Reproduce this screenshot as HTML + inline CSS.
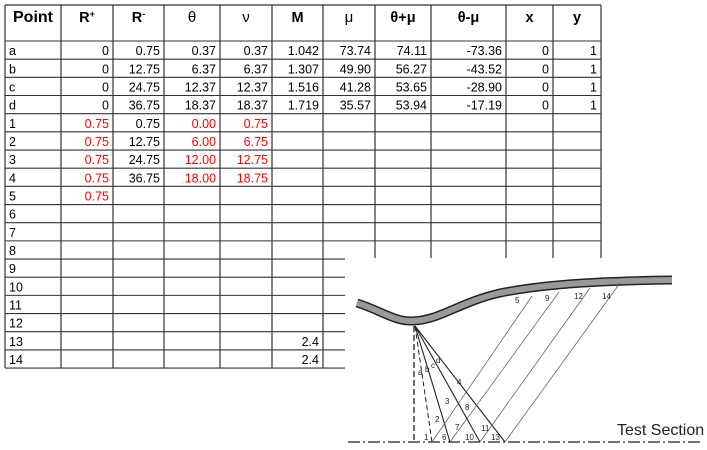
<!DOCTYPE html>
<html><head><meta charset="utf-8"><style>
html,body{margin:0;padding:0;background:#fff;}
svg{display:block;font-family:"Liberation Sans",Arial,sans-serif;}
</style></head><body>
<svg id="s" width="707" height="450" viewBox="0 0 707 450"></svg>
<script>
const NS='http://www.w3.org/2000/svg';
const svg=document.getElementById('s');
const colX=[5,61,113,164,220,272,323,375,431,506,553,601];
const headers=['Point','R+','R-','θ','ν','M','μ','θ+μ','θ-μ','x','y'];
const points=['a','b','c','d','1','2','3','4','5','6','7','8','9','10','11','12','13','14'];
const rPlus=['0','0','0','0','0.75','0.75','0.75','0.75','0.75','','','','','','','','',''];
const rMinus=['0.75','12.75','24.75','36.75','0.75','12.75','24.75','36.75','','','','','','','','','',''];
const theta=['0.37','6.37','12.37','18.37','0.00','6.00','12.00','18.00','','','','','','','','','',''];
const nu=['0.37','6.37','12.37','18.37','0.75','6.75','12.75','18.75','','','','','','','','','',''];
const mach=['1.042','1.307','1.516','1.719','','','','','','','','','','','','','2.4','2.4'];
const mu=['73.74','49.90','41.28','35.57','','','','','','','','','','','','','',''];
const tpm=['74.11','56.27','53.65','53.94','','','','','','','','','','','','','',''];
const tmm=['-73.36','-43.52','-28.90','-17.19','','','','','','','','','','','','','',''];
const xs=['0','0','0','0','','','','','','','','','','','','','',''];
const ys=['1','1','1','1','','','','','','','','','','','','','',''];
const cols=[points,rPlus,rMinus,theta,nu,mach,mu,tpm,tmm,xs,ys];
const headTop=5, headBot=41, rowH=18.17;
function el(t,a,p){const e=document.createElementNS(NS,t);for(const k in a)e.setAttribute(k,a[k]);(p||svg).appendChild(e);return e;}
const g=el('g',{});


headers.forEach((h,i)=>{
  const cx=(colX[i]+colX[i+1])/2;
  const greek=(h==='θ'||h==='ν'||h==='μ');
  const t=el('text',{x:cx,y:22,'text-anchor':'middle','font-size':i==0?16:(greek?15:14.5),'font-weight':greek?'normal':'bold',fill:'#000'},g);
  
  
  if(h==='R+'||h==='R-'){t.textContent='R';const s=el('tspan',{'font-size':9,dy:-5},t);s.textContent=h==='R+'?'+':'-';}
  else t.textContent=h;
});
points.forEach((p,r)=>{
  const yb=headBot+rowH*(r+1)-4;
  cols.forEach((c,i)=>{
    const v=c[r]; if(!v) return;
    const red=(r>=4&&r<=8)&&(i==1||i==3||i==4);
    const t=el('text',i==0?{x:9,y:yb,'font-size':12.5}:{x:colX[i+1]-4,y:yb,'text-anchor':'end','font-size':12.5},g);
    t.setAttribute('fill',red?'#ff0000':'#000');
    
    
    t.textContent=v;
  });
});
const bottom=headBot+rowH*points.length;
colX.forEach(x=>{const l=el('line',{x1:x,y1:headTop,x2:x,y2:bottom,stroke:'#333','stroke-width':1.2},g);});
el('line',{x1:colX[0],y1:headTop,x2:colX[11],y2:headTop,stroke:'#333','stroke-width':1.2},g);
for(let r=0;r<=points.length;r++){const y=headBot+rowH*r;const l=el('line',{x1:colX[0],y1:y,x2:colX[11],y2:y,stroke:'#333','stroke-width':1.1},g);}
const d=el('g',{});


el('rect',{x:345,y:258,width:362,height:192,fill:'#fff'},d);
const wall='M357,303 C380,310 395,322 413,321 C440,320 460,302 500,293 C540,285 590,281 672,280';
el('path',{d:wall,fill:'none',stroke:'#222','stroke-width':9},d);
const wp=el('path',{d:wall,fill:'none',stroke:'#999','stroke-width':6},d);

el('line',{x1:348,y1:442,x2:700,y2:442,stroke:'#222','stroke-width':1.2,'stroke-dasharray':'12,3,2,3'},d);
el('line',{x1:414,y1:326,x2:414,y2:442,stroke:'#222','stroke-width':1.3,'stroke-dasharray':'6,3'},d);
const O=[415,326];
el('line',{x1:O[0],y1:O[1],x2:432,y2:442,stroke:'#222','stroke-width':1,'stroke-dasharray':'5,3'},d);
[[450,442],[480,442],[505,442]].forEach(p=>el('line',{x1:O[0],y1:O[1],x2:p[0],y2:p[1],stroke:'#222','stroke-width':1.1},d));
[[432,532,296],[450,559,292],[480,590,288],[505,620,283]].forEach(a=>el('line',{x1:a[0],y1:442,x2:a[1],y2:a[2],stroke:'#555','stroke-width':0.7},d));
const labels=[['a',418,375],['b',425,372],['c',431,368],['d',436,363],['4',457,385],['3',445,404],['8',465,410],['2',435,422],['7',455,430],['11',481,431],['1',424,440],['6',442,440],['10',465,440],['13',491,440],['5',515,303],['9',545,301],['12',574,299],['14',602,299]];
labels.forEach(l=>{const t=el('text',{x:l[1],y:l[2],'font-size':8,fill:'#222'},d);t.textContent=l[0];});
const ts=el('text',{x:617,y:435,'font-size':16,fill:'#222'},d);


ts.textContent='Test Section';
</script>
</body></html>
